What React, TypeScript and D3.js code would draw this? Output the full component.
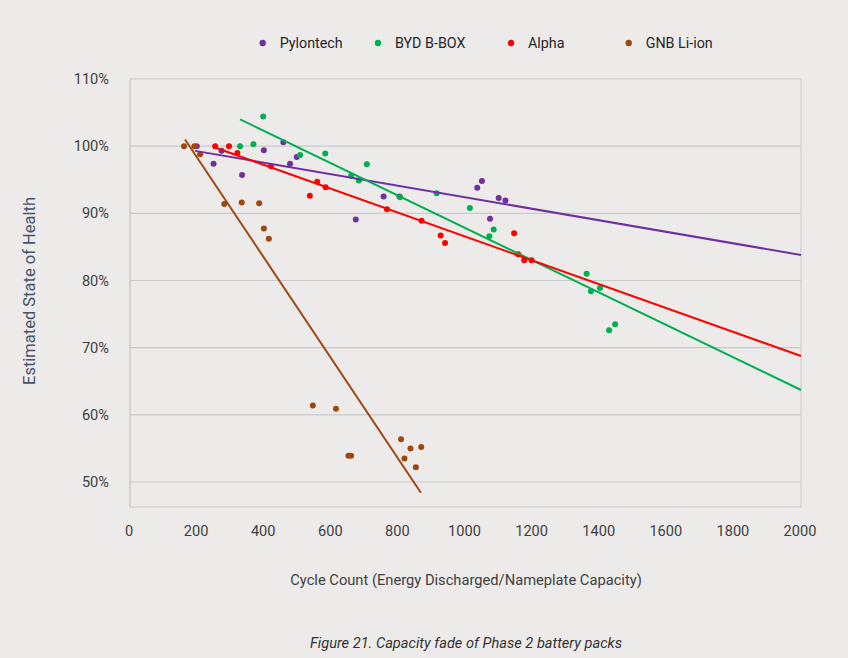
import React from "react";
import * as d3 from "d3";

const seriesNames = ["Pylontech", "BYD B-BOX", "Alpha", "GNB Li-ion"];
const seriesColors = ["#7030A0", "#00B050", "#FF0000", "#9E480E"];

const pylontechX = [199, 273, 249, 334, 399, 457, 477, 497, 673, 756, 803, 1035, 1049, 1099, 1119, 1073];
const pylontechY = [100, 99.3, 97.4, 95.7, 99.4, 100.6, 97.4, 98.4, 89.1, 92.5, 92.5, 93.8, 94.8, 92.3, 91.9, 89.2];

const bydX = [328, 368, 397, 507, 582, 659, 682, 706, 805, 914, 1013, 1071, 1084, 1361, 1374, 1401, 1428, 1446];
const bydY = [100, 100.3, 104.4, 98.7, 98.9, 95.6, 94.9, 97.3, 92.4, 93.0, 90.8, 86.6, 87.6, 81.0, 78.4, 78.9, 72.6, 73.5];

const alphaX = [254, 295, 320, 420, 536, 558, 583, 766, 869, 926, 939, 1145, 1157, 1175, 1197];
const alphaY = [100, 100, 99.0, 97.0, 92.6, 94.7, 93.9, 90.6, 88.9, 86.7, 85.6, 87.05, 83.9, 83.0, 83.0];

const gnbX = [161, 192, 209, 281, 333, 385, 399, 414, 545, 614, 651, 659, 808, 818, 836, 852, 868];
const gnbY = [100, 100, 98.8, 91.4, 91.6, 91.5, 87.75, 86.2, 61.4, 60.9, 53.9, 53.9, 56.35, 53.5, 55.0, 52.2, 55.2];

// trendline endpoints [startX, startY, endX, endY]
const trendPylontech = [194, 99.3, 2000, 83.8];
const trendBYD = [328, 104.0, 2000, 63.7];
const trendAlpha = [253, 99.8, 2000, 68.75];
const trendGNB = [164, 101.0, 867, 48.4];

const xTicks = [0, 200, 400, 600, 800, 1000, 1200, 1400, 1600, 1800, 2000];
const yTicks = [50, 60, 70, 80, 90, 100, 110];

const xs = [pylontechX, bydX, alphaX, gnbX];
const ys = [pylontechY, bydY, alphaY, gnbY];
const trends = [trendPylontech, trendBYD, trendAlpha, trendGNB];

const W = 848;
const H = 658;
const left = 130;
const right = 801;
const top = 79;
const bottom = 507;

export default function App() {
  const x = d3.scaleLinear().domain([0, 2000]).range([left, right]);
  const y = d3.scaleLinear().domain([50, 110]).range([482, top]);
  const font = "Roboto, 'Noto Sans', sans-serif";
  const line = d3.line<[number, number]>().x((d) => x(d[0])).y((d) => y(d[1]));
  const legendDotX = [262.7, 378, 511, 628.7];

  return (
    <div style={{ position: "fixed", left: 0, top: 0, width: W, height: H, background: "#EDEBE9" }}>
      <svg width={W} height={H} style={{ display: "block" }} fontFamily={font}>
        <rect x={0} y={0} width={W} height={H} fill="#EDEBE9" />
        {/* legend */}
        {seriesNames.map((n, i) => (
          <g key={n}>
            <circle cx={legendDotX[i]} cy={43} r={3.2} fill={seriesColors[i]} />
            <text x={legendDotX[i] + 17} y={48} fontSize={14.3} fill="#262626">
              {n}
            </text>
          </g>
        ))}
        {/* gridlines */}
        {yTicks.filter((t) => t < 110).map((t) => (
          <line key={t} x1={left} x2={right} y1={y(t)} y2={y(t)} stroke="#CACACA" strokeWidth={1.2} />
        ))}
        {/* plot border */}
        <rect x={left} y={top} width={right - left} height={bottom - top} fill="none" stroke="#CFCFCF" strokeWidth={1.2} />
        <line x1={left} x2={left} y1={top} y2={bottom} stroke="#D2D2D2" strokeWidth={2} />
        {/* y tick labels */}
        {yTicks.map((t) => (
          <text key={t} x={109} y={y(t) + 5} fontSize={14.6} textAnchor="end" fill="#404040">
            {t}%
          </text>
        ))}
        {/* x tick labels */}
        {xTicks.map((t) => (
          <text key={t} x={x(t) - 1} y={536} fontSize={14.6} textAnchor="middle" fill="#404040">
            {t}
          </text>
        ))}
        {/* points */}
        {xs.map((arr, si) =>
          arr.map((vx, i) => (
            <circle key={si + "-" + i} cx={x(vx)} cy={y(ys[si][i])} r={3} fill={seriesColors[si]} />
          ))
        )}
        {/* trendlines */}
        {trends.map((t, si) => (
          <path
            key={si}
            d={line([
              [t[0], t[1]],
              [t[2], t[3]],
            ]) as string}
            stroke={seriesColors[si]}
            strokeWidth={2}
            fill="none"
          />
        ))}
        {/* axis titles */}
        <text
          transform={`translate(35, ${291}) rotate(-90)`}
          fontSize={16.5}
          textAnchor="middle"
          fill="#44546A"
        >
          Estimated State of Health
        </text>
        <text x={466} y={585} fontSize={14.7} textAnchor="middle" fill="#404040">
          Cycle Count (Energy Discharged/Nameplate Capacity)
        </text>
        <text x={466} y={648} fontSize={14.6} fontStyle="italic" textAnchor="middle" fill="#333333">
          Figure 21. Capacity fade of Phase 2 battery packs
        </text>
      </svg>
    </div>
  );
}
